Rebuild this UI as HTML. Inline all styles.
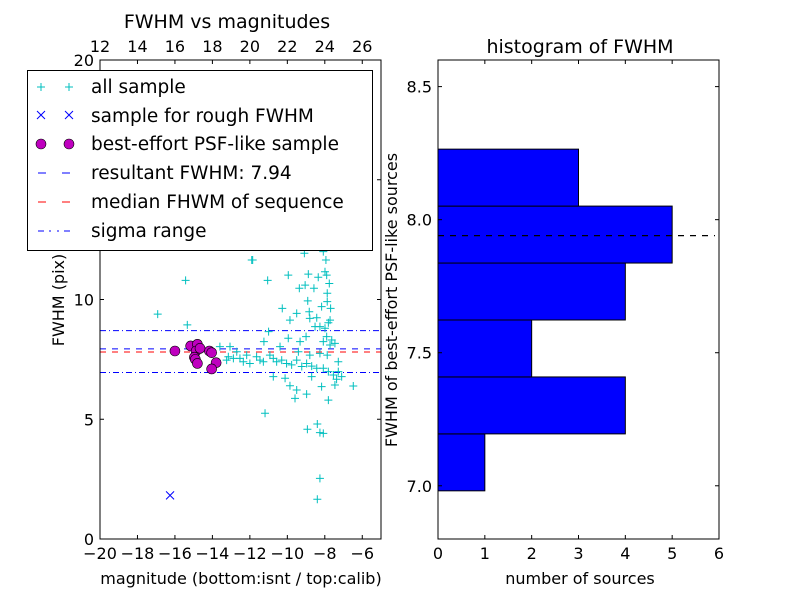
<!DOCTYPE html>
<html><head><meta charset="utf-8"><style>
html,body{margin:0;padding:0;background:#fff;}
svg{display:block;font-family:"DejaVu Sans","Liberation Sans",sans-serif;}
</style></head><body>
<svg id="fig" width="800" height="600" viewBox="0 0 800 600" xmlns="http://www.w3.org/2000/svg"></svg>
<script>
// ---- data: scatter ----
const allMag = [-15.43,-16.92,-15.34,-11.85,-11.05,-9.95,-10.27,-9.09,-8.88,-8.35,-9.05,-9.36,-8.58,-7.76,-7.9,-7.99,-8.08,-7.94,-7.87,-8.91,-7.87,-7.69,-7.72,-8.17,-8.83,-8.8,-9.5,-9.86,-8.43,-8.26,-7.99,-7.81,-8.52,-7.9,-7.63,-7.46,-8.08,-7.72,-9.0,-9.32,-9.95,-10.39,-11.0,-11.25,-9.41,-8.26,-7.87,-7.28,-8.8,-13.6,-13.06,-12.7,-13.15,-13.24,-12.88,-12.53,-12.35,-12.0,-12.17,-11.64,-11.46,-11.28,-10.93,-10.75,-10.57,-10.3,-10.04,-9.77,-9.5,-9.23,-8.97,-8.7,-8.43,-8.08,-7.81,-7.54,-7.28,-7.1,-7.37,-7.46,-6.48,-10.75,-10.12,-9.86,-9.5,-9.59,-8.97,-8.7,-8.17,-7.81,-11.19,-8.93,-8.4,-8.26,-8.08,-8.26,-8.4,-8.3,-11.9];
const allFwhm = [10.8,9.39,8.94,11.65,10.8,11.02,9.63,11.93,11.06,10.93,10.6,10.47,10.47,10.67,11.02,11.16,12.0,11.65,10.26,9.94,9.91,9.63,9.14,9.7,9.49,9.21,9.42,9.14,9.24,8.87,8.8,9.03,8.87,8.45,8.31,8.17,8.24,8.1,8.45,8.24,8.38,8.03,8.66,8.24,7.82,7.75,7.68,7.4,7.68,8.03,8.03,7.82,7.61,7.47,7.54,7.54,7.4,7.33,7.68,7.61,7.47,7.4,7.68,7.54,7.4,7.47,7.33,7.27,7.47,7.2,7.33,7.22,7.13,7.13,6.99,6.85,6.99,6.78,6.67,6.43,6.39,6.78,6.71,6.4,6.22,5.87,6.05,6.78,6.36,5.8,5.25,4.58,4.8,4.44,4.41,2.53,1.66,12.3,11.65];
const roughMag = [-16.26];
const roughFwhm = [1.82];
const psfMag = [-16.0,-15.16,-14.8,-14.87,-14.96,-14.91,-14.8,-14.16,-14.04,-13.8,-14.04,-14.66];
const psfFwhm = [7.85,8.06,8.13,7.85,7.59,7.5,7.33,7.85,7.78,7.36,7.1,7.96];
const resultFwhm = 7.94;
const medianFwhm = 7.81;
const sigmaRange = [6.95, 8.7];
const xTicks = [-20,-18,-16,-14,-12,-10,-8,-6];
const yTicks = [0,5,10,15,20];
const topTicks = [12,14,16,18,20,22,24,26];
// ---- data: histogram ----
const binEdges = [6.981,7.195,7.409,7.623,7.837,8.051,8.265];
const binCounts = [1,4,2,4,5,3];
const hXTicks = [0,1,2,3,4,5,6];
const hYTicks = [7.0,7.5,8.0,8.5];

const NS="http://www.w3.org/2000/svg";
const svg=document.getElementById('fig');
function mk(tag,attrs,parent){const e=document.createElementNS(NS,tag);for(const k in attrs)e.setAttribute(k,attrs[k]);(parent||svg).appendChild(e);return e;}
function txt(s,attrs,parent){const e=mk('text',attrs,parent);e.textContent=s;return e;}

// left axes
const L={x0:100,x1:381,y0:60,y1:539,xmin:-20,xmax:-5,ymin:0,ymax:20};
const sx=v=>L.x0+(v-L.xmin)/(L.xmax-L.xmin)*(L.x1-L.x0);
const sy=v=>L.y1-(v-L.ymin)/(L.ymax-L.ymin)*(L.y1-L.y0);
const topOffset=32;
// right axes
const R={x0:438,x1:719,y0:60,y1:539,xmin:0,xmax:6,ymin:6.8,ymax:8.6};
const hx=v=>R.x0+(v-R.xmin)/(R.xmax-R.xmin)*(R.x1-R.x0);
const hy=v=>R.y1-(v-R.ymin)/(R.ymax-R.ymin)*(R.y1-R.y0);

const gL=mk('g',{});


const clipD=mk('defs',{});
const cp=mk('clipPath',{id:'clipL'},clipD);mk('rect',{x:L.x0,y:L.y0,width:L.x1-L.x0,height:L.y1-L.y0},cp);
const cp2=mk('clipPath',{id:'clipR'},clipD);mk('rect',{x:R.x0,y:R.y0,width:R.x1-R.x0,height:R.y1-R.y0},cp2);
const plotL=mk('g',{'clip-path':'url(#clipL)'},gL);

// horizontal lines
function hline(v,color,dash,name){
  const l=mk('line',{x1:L.x0,x2:L.x1,y1:sy(v),y2:sy(v),stroke:color,'stroke-width':1,'stroke-dasharray':dash},plotL);
  
  
}
hline(sigmaRange[0],'#0000ff','6 3 1 3','sigma-low-line');
hline(sigmaRange[1],'#0000ff','6 3 1 3','sigma-high-line');
hline(resultFwhm,'#0000ff','6 6','resultant-fwhm-line');
hline(medianFwhm,'#ff0000','6 6','median-fwhm-line');

// all sample
for(let i=0;i<allMag.length;i++){
  const x=sx(allMag[i]),y=sy(allFwhm[i]);
  const p=mk('path',{d:`M${x-4},${y}H${x+4}M${x},${y-4}V${y+4}`,stroke:'#00bfbf','stroke-width':1},plotL);
  
  
}
for(let i=0;i<roughMag.length;i++){
  const x=sx(roughMag[i]),y=sy(roughFwhm[i]);
  const p=mk('path',{d:`M${x-4},${y-4}L${x+4},${y+4}M${x-4},${y+4}L${x+4},${y-4}`,stroke:'#0000ff','stroke-width':1},plotL);
  
  
}
for(let i=0;i<psfMag.length;i++){
  const c=mk('circle',{cx:sx(psfMag[i]),cy:sy(psfFwhm[i]),r:5,fill:'#bf00bf',stroke:'#000','stroke-width':0.6},plotL);
  
  
}
mk('rect',{x:L.x0,y:L.y0,width:L.x1-L.x0,height:L.y1-L.y0,fill:'none',stroke:'#000','stroke-width':1},gL);
// ticks left
for(const t of xTicks){const x=sx(t);
  mk('line',{x1:x,x2:x,y1:L.y1,y2:L.y1-4,stroke:'#000'},gL);
  const e=txt(t<0?'\u2212'+(-t):String(t),{x:x,y:L.y1+20,'font-size':16,'text-anchor':'middle'},gL);
  
  
}
for(const t of topTicks){const x=sx(t-topOffset);
  mk('line',{x1:x,x2:x,y1:L.y0,y2:L.y0+4,stroke:'#000'},gL);
  const e=txt(String(t),{x:x,y:L.y0-8,'font-size':16,'text-anchor':'middle'},gL);
  
  
}
for(const t of yTicks){const y=sy(t);
  mk('line',{x1:L.x0,x2:L.x0+4,y1:y,y2:y,stroke:'#000'},gL);
  mk('line',{x1:L.x1,x2:L.x1-4,y1:y,y2:y,stroke:'#000'},gL);
  const e=txt(String(t),{x:L.x0-6,y:y+6,'font-size':16,'text-anchor':'end'},gL);
  
  
}
// histogram
const gR=mk('g',{});


const plotR=mk('g',{'clip-path':'url(#clipR)'},gR);
for(let i=0;i<binCounts.length;i++){
  const y1=hy(binEdges[i]),y2=hy(binEdges[i+1]);
  const r=mk('rect',{x:hx(0),y:y2,width:hx(binCounts[i])-hx(0),height:y1-y2,fill:'#0000ff',stroke:'#000','stroke-width':1},plotR);
  
  
}
const rl=mk('line',{x1:R.x0,x2:R.x1-4,y1:hy(resultFwhm),y2:hy(resultFwhm),stroke:'#000','stroke-width':1.2,'stroke-dasharray':'6 6'},plotR);


mk('rect',{x:R.x0,y:R.y0,width:R.x1-R.x0,height:R.y1-R.y0,fill:'none',stroke:'#000'},gR);
for(const t of hXTicks){const x=hx(t);
  mk('line',{x1:x,x2:x,y1:R.y1,y2:R.y1-4,stroke:'#000'},gR);
  mk('line',{x1:x,x2:x,y1:R.y0,y2:R.y0+4,stroke:'#000'},gR);
  const e=txt(String(t),{x:x,y:R.y1+20,'font-size':16,'text-anchor':'middle'},gR);
  
  
}
for(const t of hYTicks){const y=hy(t);
  mk('line',{x1:R.x0,x2:R.x0+4,y1:y,y2:y,stroke:'#000'},gR);
  mk('line',{x1:R.x1,x2:R.x1-4,y1:y,y2:y,stroke:'#000'},gR);
  const e=txt(t.toFixed(1),{x:R.x0-6,y:y+6,'font-size':16,'text-anchor':'end'},gR);
  
  
}
</script>
<svg width="800" height="600" style="position:absolute;left:0;top:0" xmlns="http://www.w3.org/2000/svg">
<text x="227" y="28" font-size="19" text-anchor="middle" style="font-family:'DejaVu Sans',sans-serif">FWHM vs magnitudes</text>
<text x="580" y="53" font-size="19" text-anchor="middle" style="font-family:'DejaVu Sans',sans-serif">histogram of FWHM</text>
<text x="241" y="584" font-size="16" text-anchor="middle" style="font-family:'DejaVu Sans',sans-serif">magnitude (bottom:isnt / top:calib)</text>
<text x="580" y="584" font-size="16" text-anchor="middle" style="font-family:'DejaVu Sans',sans-serif">number of sources</text>
<text transform="translate(64,300) rotate(-90)" font-size="16" text-anchor="middle" style="font-family:'DejaVu Sans',sans-serif">FWHM (pix)</text>
<text transform="translate(397,300) rotate(-90)" font-size="16" text-anchor="middle" style="font-family:'DejaVu Sans',sans-serif">FWHM of best-effort PSF-like sources</text>
<g style="font-family:'DejaVu Sans',sans-serif">
<rect x="27.5" y="70.5" width="345" height="180" fill="#fff" stroke="#000"/>
<g>
<path d="M37,87H45M41,83V91M65,87H73M69,83V91" stroke="#00bfbf"/>
<text x="91" y="93" font-size="18.5">all sample</text></g>
<g>
<path d="M37,111L45,119M37,119L45,111M65,111L73,119M65,119L73,111" stroke="#0000ff"/>
<text x="91" y="122" font-size="18.5">sample for rough FWHM</text></g>
<g>
<circle cx="41" cy="144" r="5" fill="#bf00bf" stroke="#000" stroke-width="0.6"/><circle cx="69" cy="144" r="5" fill="#bf00bf" stroke="#000" stroke-width="0.6"/>
<text x="91" y="150" font-size="18.5">best-effort PSF-like sample</text></g>
<g>
<path d="M38,173H46M62,173H70" stroke="#0000ff"/>
<text x="91" y="179" font-size="18.5">resultant FWHM: 7.94</text></g>
<g>
<path d="M38,202H46M62,202H70" stroke="#ff0000"/>
<text x="91" y="208" font-size="18.5">median FHWM of sequence</text></g>
<g>
<path d="M38,231H44M49,231H51M57,231H59M64,231H70" stroke="#0000ff"/>
<text x="91" y="237" font-size="18.5">sigma range</text></g>
</g>
</svg>
</body></html>
